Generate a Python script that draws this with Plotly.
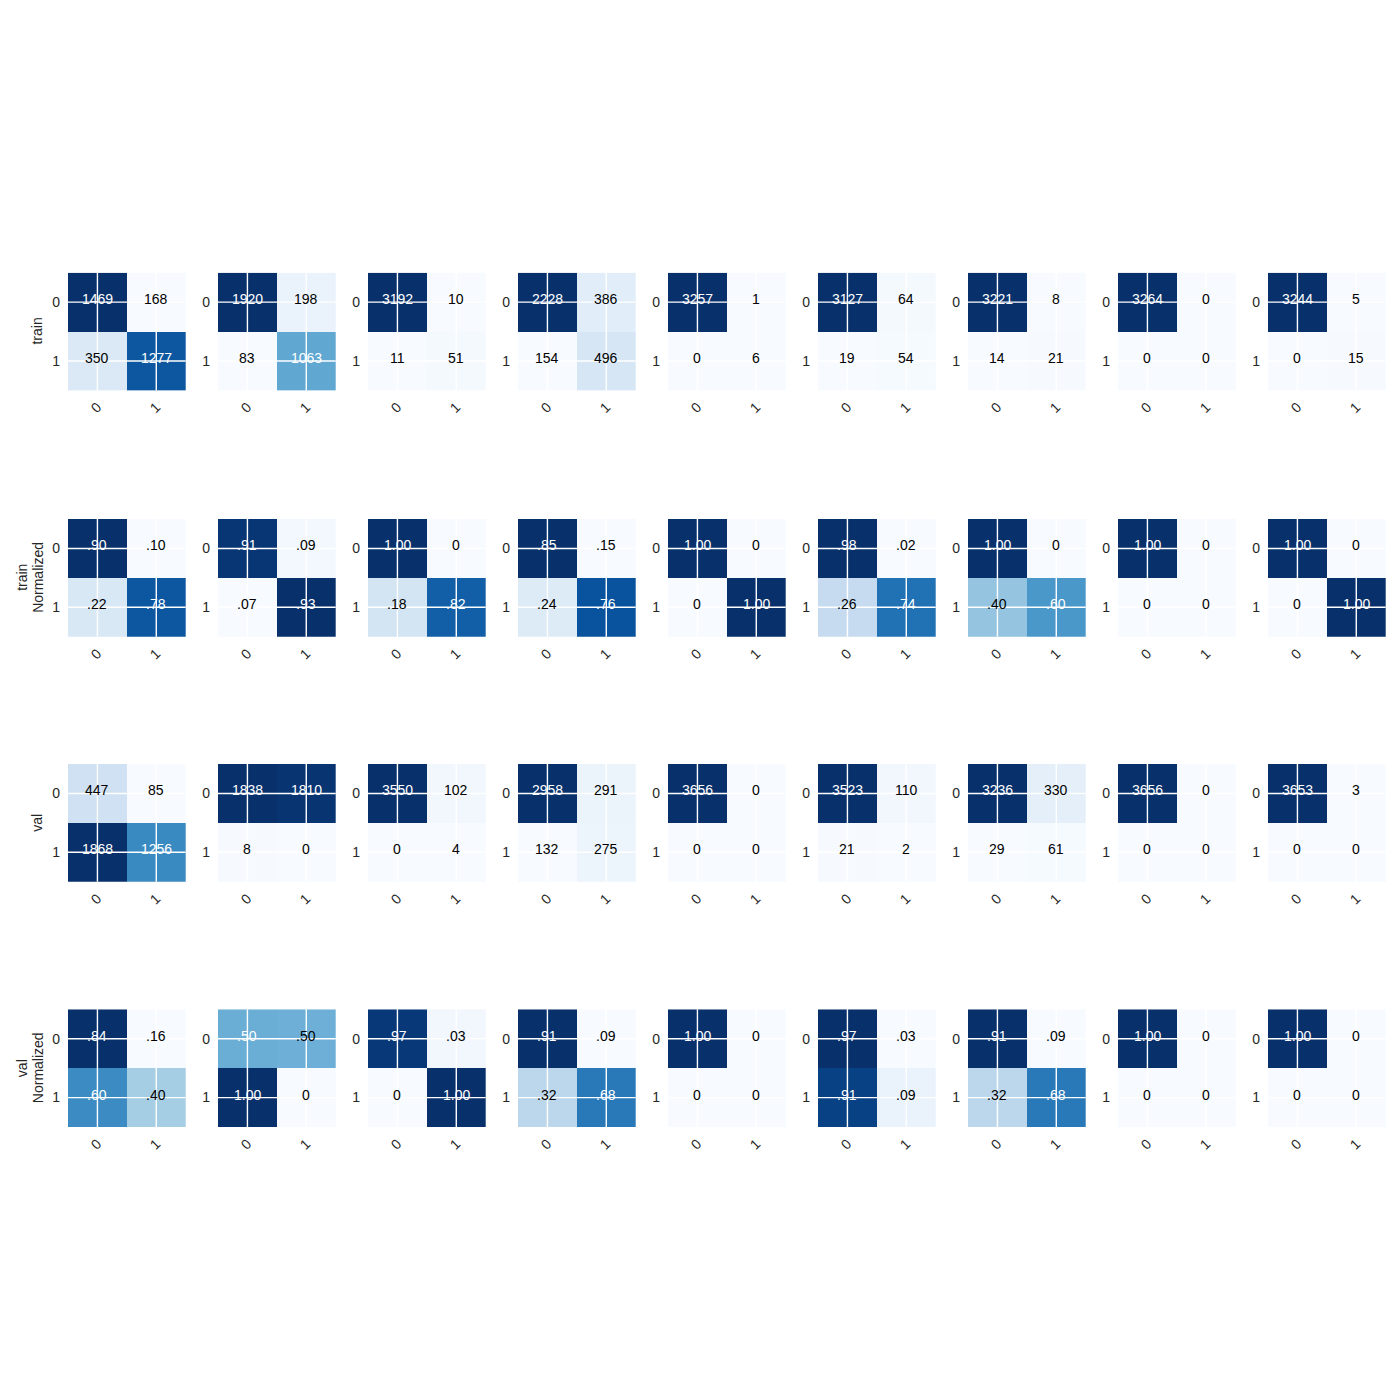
import plotly.graph_objects as go

class_labels = ["0", "1"]

row_titles = [["train"], ["train", "Normalized"], ["val"], ["val", "Normalized"]]

train_counts = [
    [[1469, 168], [350, 1277]],
    [[1920, 198], [83, 1063]],
    [[3192, 10], [11, 51]],
    [[2228, 386], [154, 496]],
    [[3257, 1], [0, 6]],
    [[3127, 64], [19, 54]],
    [[3221, 8], [14, 21]],
    [[3264, 0], [0, 0]],
    [[3244, 5], [0, 15]],
]

train_norm = [
    [[0.90, 0.10], [0.22, 0.78]],
    [[0.91, 0.09], [0.07, 0.93]],
    [[1.00, 0.0], [0.18, 0.82]],
    [[0.85, 0.15], [0.24, 0.76]],
    [[1.00, 0.0], [0.0, 1.00]],
    [[0.98, 0.02], [0.26, 0.74]],
    [[1.00, 0.0], [0.40, 0.60]],
    [[1.00, 0.0], [0.0, 0.0]],
    [[1.00, 0.0], [0.0, 1.00]],
]

val_counts = [
    [[447, 85], [1868, 1256]],
    [[1838, 1810], [8, 0]],
    [[3550, 102], [0, 4]],
    [[2958, 291], [132, 275]],
    [[3656, 0], [0, 0]],
    [[3523, 110], [21, 2]],
    [[3236, 330], [29, 61]],
    [[3656, 0], [0, 0]],
    [[3653, 3], [0, 0]],
]

val_norm = [
    [[0.84, 0.16], [0.60, 0.40]],
    [[0.504, 0.496], [1.00, 0.0]],
    [[0.97, 0.03], [0.0, 1.00]],
    [[0.91, 0.09], [0.32, 0.68]],
    [[1.00, 0.0], [0.0, 0.0]],
    [[0.97, 0.03], [0.91, 0.09]],
    [[0.91, 0.09], [0.32, 0.68]],
    [[1.00, 0.0], [0.0, 0.0]],
    [[1.00, 0.0], [0.0, 0.0]],
]

rows_data = [(train_counts, False), (train_norm, True), (val_counts, False), (val_norm, True)]

BLUES = ['rgb(247,251,255)', 'rgb(222,235,247)', 'rgb(198,219,239)', 'rgb(158,202,225)',
         'rgb(107,174,214)', 'rgb(66,146,198)', 'rgb(33,113,181)', 'rgb(8,81,156)', 'rgb(8,48,107)']
colorscale = [[i / (len(BLUES) - 1), c] for i, c in enumerate(BLUES)]

W = H = 1400
col_left = [68 + 150 * c for c in range(9)]
cell_w = 117.7
row_top = [272.7, 519.0, 764.0, 1009.3]
cell_h = 117.7
FONT = "Liberation Sans, Arial, sans-serif"
TXT = "#262626"


def fmt(v, norm):
    if not norm:
        return str(int(v))
    s = f"{v:.2f}"
    if s == "0.00":
        return "0"
    if s.startswith("0"):
        s = s[1:]
    return s


fig = go.Figure()
layout = dict(width=W, height=H, margin=dict(l=0, r=0, t=0, b=0),
              paper_bgcolor="white", plot_bgcolor="white", showlegend=False,
              font=dict(family=FONT, size=14, color=TXT))
shapes = []
annotations = []

n = 0
for r, (mats, norm) in enumerate(rows_data):
    for c, m in enumerate(mats):
        n += 1
        xa = "x" if n == 1 else f"x{n}"
        ya = "y" if n == 1 else f"y{n}"
        flat = [v for row in m for v in row]
        vmax = max(flat)
        thresh = vmax / 2.0
        fig.add_trace(go.Heatmap(z=m, x=list(range(len(class_labels))), y=list(range(len(class_labels))),
                                 colorscale=colorscale, showscale=False, hoverinfo="skip",
                                 xaxis=xa, yaxis=ya))
        for i, row in enumerate(m):
            for j, v in enumerate(row):
                annotations.append(dict(text=fmt(v, norm), xref=xa, yref=ya, x=j, y=i,
                                        xanchor="center", yanchor="middle", yshift=3,
                                        showarrow=False,
                                        font=dict(family=FONT, size=14,
                                                  color="white" if v > thresh else "black")))
        x0 = col_left[c] / W
        x1 = (col_left[c] + cell_w) / W
        y1 = 1 - row_top[r] / H
        y0 = 1 - (row_top[r] + cell_h) / H
        k = "" if n == 1 else str(n)
        layout["xaxis" + k] = dict(domain=[x0, x1], anchor=ya, range=[-0.5, 1.5],
                                   tickvals=list(range(len(class_labels))), ticktext=class_labels,
                                   tickangle=-45, showgrid=False, zeroline=False, showline=False,
                                   ticks="", ticklabelstandoff=5, fixedrange=True,
                                   tickfont=dict(family=FONT, size=14, color=TXT))
        layout["yaxis" + k] = dict(domain=[y0, y1], anchor=xa, range=[1.5, -0.5],
                                   tickvals=list(range(len(class_labels))), ticktext=class_labels,
                                   showgrid=False, zeroline=False, showline=False,
                                   ticks="", ticklabelstandoff=7, fixedrange=True,
                                   tickfont=dict(family=FONT, size=14, color=TXT))
        for t in range(len(class_labels)):
            shapes.append(dict(type="line", xref=f"{xa} domain", yref=ya, x0=0, x1=1, y0=t, y1=t,
                               line=dict(color="white", width=1.4), layer="above"))
            shapes.append(dict(type="line", xref=xa, yref=f"{ya} domain", x0=t, x1=t, y0=0, y1=1,
                               line=dict(color="white", width=1.4), layer="above"))
    # row titles
    yc = 1 - (row_top[r] + cell_h / 2) / H
    lines = row_titles[r]
    if len(lines) == 1:
        xs_px = [37]
    else:
        xs_px = [22, 38]
    for txt, xp in zip(lines, xs_px):
        annotations.append(dict(text=txt, xref="paper", yref="paper", x=xp / W, y=yc,
                                xanchor="center", yanchor="middle", textangle=-90, showarrow=False,
                                font=dict(family=FONT, size=14, color=TXT)))

layout["shapes"] = shapes
layout["annotations"] = annotations
fig.update_layout(**layout)
fig.write_html("out.html")
